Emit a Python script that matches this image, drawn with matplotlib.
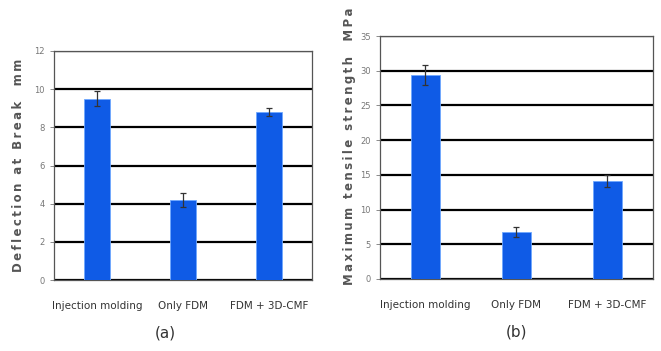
import matplotlib.pyplot as plt
import numpy as np

categories = ["Injection molding", "Only FDM", "FDM + 3D-CMF"]

# (a) deflection at break, mm
deflection = [9.5, 4.2, 8.8]
deflection_err = [0.4, 0.35, 0.2]

# (b) maximum tensile strength, MPa
strength = [29.4, 6.8, 14.1]
strength_err = [1.4, 0.7, 0.85]

bar_color = "#0f5be6"
THIN = "\u2009"

fig = plt.figure(figsize=(6.61, 3.51), dpi=100)
ax1 = fig.add_axes([54 / 661, 1 - 280 / 351, 258 / 661, 229 / 351])
ax2 = fig.add_axes([380 / 661, 1 - 279 / 351, 273 / 661, 243 / 351])


def spaced(s):
    return THIN.join(s)


def draw_panel(ax, values, errors, ymax, step, ylabel, caption,
               label_xy, cap_xy):
    x = np.arange(len(categories))
    ax.bar(x, values, width=0.31, color=bar_color, edgecolor="#6fa8ff",
           linewidth=0.6, zorder=3)
    ax.errorbar(x, values, yerr=errors, fmt="none", ecolor="#333333",
                elinewidth=0.9, capsize=2, capthick=0.9, zorder=4)
    ax.set_xlim(-0.5, 2.5)
    ax.set_ylim(0, ymax)
    ax.set_yticks(np.arange(0, ymax + 0.1, step))
    ax.yaxis.grid(True, color="black", linewidth=1.6, zorder=1)
    ax.set_axisbelow(True)
    ax.set_xticks(x)
    ax.set_xticklabels(categories, fontsize=7.5, color="#333333",
                       fontfamily=["Liberation Sans Narrow", "DejaVu Sans"])
    ax.tick_params(axis="x", length=0, pad=15)
    ax.tick_params(axis="y", labelsize=6, colors="#777777", length=3,
                   width=0.6, direction="out")
    for s in ax.spines.values():
        s.set_color("#555555")
        s.set_linewidth(0.9)
    ax.set_ylabel(spaced(ylabel), fontsize=8.5, fontweight="bold",
                  color="#555555", fontfamily=["DejaVu Sans"])
    ax.yaxis.set_label_coords(*label_xy)
    ax.text(cap_xy[0], cap_xy[1], caption, transform=ax.transAxes,
            ha="center", va="center", fontsize=11, color="#333333")


draw_panel(ax1, deflection, deflection_err, 12, 2,
           "Deflection at Break  mm", "(a)", (-0.113, 0.5), (0.43, -0.23))
draw_panel(ax2, strength, strength_err, 35, 5,
           "Maximum tensile strength  MPa", "(b)", (-0.087, 0.547),
           (0.50, -0.22))

fig.savefig("out.png", dpi=100)
